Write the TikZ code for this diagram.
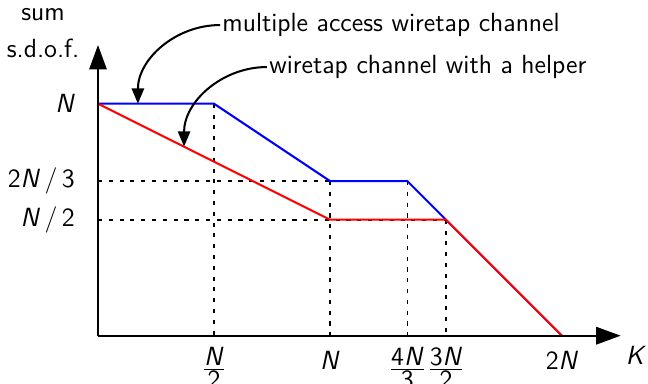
\documentclass[tikz,border=0pt]{standalone}
\usepackage{amsmath}
\usetikzlibrary{arrows.meta}
\newcommand{\vfr}[2]{$\frac{\hbox{#1}}{\hbox{#2}}$}

\begin{document}
\begin{tikzpicture}[x=4cm, y=4cm, font=\sffamily\fontsize{12.9}{15}\selectfont,
  axis/.style = {line width=1pt, -{Triangle[length=12pt,width=8.5pt]}},
  guide/.style = {line width=0.8pt, dash pattern=on 2pt off 3.3pt},
  curve/.style = {line width=1pt},
  callout/.style = {line width=1pt, -{Triangle[length=7.5pt,width=6pt]}}]
\useasboundingbox (-0.4224,-0.2039) rectangle (2.3707,1.4470);
%\coordinate (name) at (K, sum s.d.o.f.);
\coordinate (O) at (0,0);
\coordinate (top) at (0,1.253);
\coordinate (right) at (2.253,0);
\coordinate (a) at (0,1);
\coordinate (b) at (0.5,1);
\coordinate (c) at (1,2/3);
\coordinate (d) at (4/3,2/3);
\coordinate (e) at (1.5,0.5);
\coordinate (f) at (1,0.5);
\coordinate (g) at (2,0);
\coordinate (hN2) at (0.5,0);
\coordinate (hN) at (1,0);
\coordinate (h4N3) at (4/3,0);
\coordinate (h3N2) at (1.5,0);
\coordinate (v2N3) at (0,2/3);
\coordinate (vN2) at (0,0.5);
\draw[guide] (v2N3) -- (d);
\draw[guide] (vN2) -- (e);
\draw[guide] (b) -- (hN2);
\draw[guide] (c) -- (hN);
\draw[guide] (d) -- (h4N3);
\draw[guide] (e) -- (h3N2);
\draw[curve, blue] (a) -- (b) -- (c) -- (d) -- (e) -- (g);
\draw[curve, red] (a) -- (f) -- (e) -- (g);
\draw[axis] (O) -- (top);
\draw[axis] (O) -- (right);
\node[align=center] (ylab) at (-0.237,1.305) {sum\\[3pt]s.d.o.f.};
\node (K) at (2.319,-0.083) {\textit{K}};
\node[anchor=east] (yN) at (-0.069,1) {\textit{N}};
\node[anchor=east] (y2N3) at (-0.069,2/3) {2\textit{N}\,/\,3};
\node[anchor=east] (yN2) at (-0.069,0.5) {\textit{N}\,/\,2};
\node[anchor=north, inner sep=0pt] (xN2) at (0.5,-0.048) {\vfr{\textit{N}}{2}};
\node[anchor=north] (xN) at (1,-0.035) {\textit{N}};
\node[anchor=north, inner sep=0pt] (x4N3) at (4/3,-0.048) {\vfr{4\textit{N}}{3}};
\node[anchor=north, inner sep=0pt] (x3N2) at (1.5,-0.048) {\vfr{3\textit{N}}{2}};
\node[anchor=north] (x2N) at (2,-0.035) {2\textit{N}};
\node[anchor=west, inner sep=1pt] (mac) at (0.526,1.339) {multiple access wiretap channel};
\node[anchor=west, inner sep=1pt] (help) at (0.728,1.158) {wiretap channel with a helper};
\coordinate (macpt) at (0.172,1.0);
\coordinate (helppt) at (0.371,0.815);
\draw[callout] (mac.west) to[out=180,in=90] (macpt);
\draw[callout] (help.west) to[out=180,in=90] (helppt);
\end{tikzpicture}
\end{document}
